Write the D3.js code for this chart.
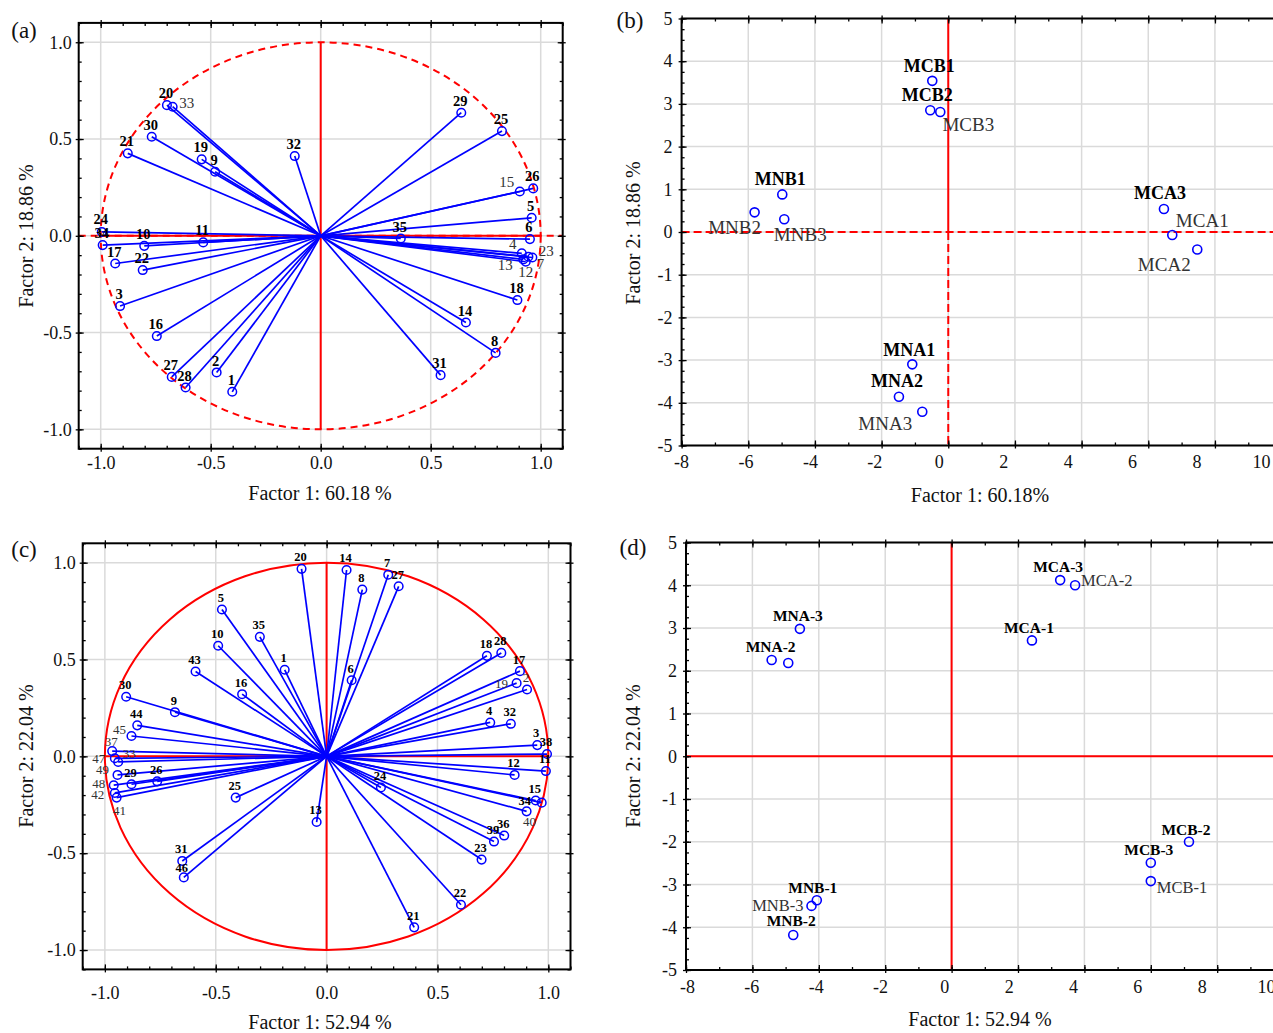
<!DOCTYPE html>
<html>
<head>
<meta charset="utf-8">
<script src="https://cdn.jsdelivr.net/npm/d3@7"></script>
<style>
  body { margin: 0; background: #fff; }
  svg { font-family: "Liberation Serif", "Times New Roman", serif; }
</style>
</head>
<body>
<div id="chart"></div>
<script>
// ---- (a) variable loadings, factor 1 (60.18 %) vs factor 2 (18.86 %)
const varsA = ["1","2","3","4","5","6","7","8","9","10","11","12","13","14","15","16","17","18",
  "19","20","21","22","23","24","25","26","27","28","29","30","31","32","33","34","35"];
const f1A = [-0.402,-0.473,-0.912,0.914,0.959,0.951,0.944,0.795,-0.48,-0.802,-0.534,0.932,0.921,0.66,
  0.905,-0.745,-0.934,0.894,-0.541,-0.699,-0.877,-0.809,0.962,-0.995,0.824,0.966,-0.677,-0.614,
  0.639,-0.768,0.545,-0.118,-0.673,-0.991,0.364];
const f2A = [-0.806,-0.706,-0.363,-0.091,0.093,-0.017,-0.108,-0.605,0.331,-0.052,-0.034,-0.134,-0.122,
  -0.448,0.229,-0.518,-0.143,-0.332,0.395,0.675,0.426,-0.177,-0.112,0.02,0.541,0.245,-0.729,-0.784,
  0.636,0.512,-0.72,0.412,0.667,-0.048,-0.014];

// ---- (b) sample scores, factor 1 vs factor 2
const samplesB = ["MCB1","MCB2","MCB3","MNB1","MNB2","MNB3","MCA1","MCA2","MCA3","MNA1","MNA2","MNA3"];
const s1B = [-0.48,-0.54,-0.24,-4.98,-5.81,-4.92,6.72,7.47,6.47,-1.08,-1.48,-0.78];
const s2B = [3.54,2.85,2.81,0.88,0.46,0.30,-0.07,-0.41,0.54,-3.10,-3.86,-4.21];

// ---- (c) variable loadings, factor 1 (52.94 %) vs factor 2 (22.04 %)
const varsC = d3.range(1, 50).map(String);
const f1C = [-0.189,0.904,0.95,0.738,-0.472,0.113,0.278,0.161,-0.684,-0.489,0.989,0.848,-0.045,0.09,
  0.943,-0.381,0.872,0.723,0.857,-0.113,0.395,0.606,0.699,0.245,-0.41,-0.764,0.325,0.788,-0.88,
  -0.904,-0.651,0.831,-0.94,0.97,-0.301,0.801,-0.967,0.994,0.755,0.902,-0.947,-0.955,-0.591,
  -0.854,-0.88,-0.644,-0.955,-0.96,-0.943];
const f2C = [0.447,0.345,0.058,0.175,0.758,0.393,0.938,0.861,0.228,0.571,-0.076,-0.096,-0.339,0.962,
  -0.228,0.321,0.44,0.519,0.378,0.968,-0.883,-0.766,-0.533,-0.161,-0.213,-0.129,0.878,0.534,-0.144,
  0.308,-0.54,0.168,-0.029,-0.239,0.617,-0.409,0.027,0.012,-0.44,-0.284,-0.213,-0.189,0.438,
  0.16,0.105,-0.625,-0.01,-0.149,-0.096];

// ---- (d) sample scores
const samplesD = ["MCA-1","MCA-2","MCA-3","MNA-1","MNA-2","MNA-3","MCB-1","MCB-2","MCB-3","MNB-1","MNB-2","MNB-3"];
const s1D = [2.42,3.72,3.27,-4.92,-5.42,-4.57,6.0,7.15,6.0,-4.06,-4.77,-4.22];
const s2D = [2.71,4.0,4.12,2.18,2.25,2.98,-2.92,-2.0,-2.49,-3.37,-4.18,-3.5];

// tick values
const loadTicks = [-1, -0.5, 0, 0.5, 1];
const loadMinor = d3.range(-11, 12).map(i => i / 10);
const scoreXTicks = [-8, -6, -4, -2, 0, 2, 4, 6, 8, 10];
const scoreYTicks = [-5, -4, -3, -2, -1, 0, 1, 2, 3, 4, 5];

// label placement (offset of text centre from marker, px) and weight
const shiftA = {"33":[14,-4],"15":[-13,-10],"4":[-9,-9],"23":[14,-7],"13":[-18,6],"12":[0,10],"7":[12,7],
  "24":[-1,-13]};
const lightA = ["33","15","4","23","13","12","7"];
const shiftC = {"45":[-12,-6],"37":[-1,-9],"33":[11,-8],"47":[-16,0],"49":[-15,-5],"48":[-15,-2],
  "42":[-17,2],"41":[3,13],"19":[-15,0],"34":[-17,-2],"40":[3,10],"46":[-2,-10]};
const lightC = ["45","37","47","33","49","48","42","41","19","2","40"];
const shiftB = {"MCB1":[-3,-15],"MCB2":[-3,-16],"MCB3":[28,13],"MNB1":[-2,-16],"MNB2":[-20,15],
  "MNB3":[16,16],"MCA3":[-4,-16],"MCA1":[30,-14],"MCA2":[-33,15],"MNA1":[-3,-15],"MNA2":[-2,-16],"MNA3":[-37,12]};
const boldB = ["MCB1","MCB2","MNB1","MCA3","MNA1","MNA2"];
const shiftD = {"MCA-3":[-2,-14],"MCA-2":[6,-5,"start"],"MCA-1":[-3,-13],"MNA-3":[-2,-13],"MNA-2":[-1,-13],
  "MCB-2":[-3,-12],"MCB-3":[-2,-13],"MCB-1":[6,6,"start"],"MNB-1":[-4,-13],"MNB-3":[-8,0,"end"],"MNB-2":[-2,-14]};
const boldD = ["MCA-3","MCA-1","MNA-3","MNA-2","MCB-2","MCB-3","MNB-1","MNB-2"];
const hiddenD = ["MNA-1"];

const W = 1273, H = 1033;
const BLUE = "#0000ff", RED = "#ff0000";

const svg = d3.select("#chart").append("svg")
  .attr("width", W).attr("height", H);
svg.append("rect").attr("width", W).attr("height", H).attr("fill", "#fff");

function grid(g, x, y, xs, ys) {
  const [x0, x1] = x.range(), [y0, y1] = y.range();
  const gg = g.append("g").attr("stroke", "#dadada").attr("stroke-width", 1.5);
  gg.selectAll(".gx").data(xs).join("line")
    .attr("x1", d => x(d)).attr("x2", d => x(d)).attr("y1", y0).attr("y2", y1);
  gg.selectAll(".gy").data(ys).join("line")
    .attr("y1", d => y(d)).attr("y2", d => y(d)).attr("x1", x0).attr("x2", x1);
}

function axes(g, x, y, o) {
  const [x0, x1] = x.range(), [y0, y1] = y.range();
  const put = (axis, t) => g.append("g").attr("transform", t).call(axis)
    .call(a => a.select(".domain").remove())
    .call(a => a.selectAll(".tick line").attr("stroke-width", 1.3));
  const sides = [
    [d3.axisBottom, x, o.xMinor, o.xMajor, `translate(0,${y0})`],
    [d3.axisTop, x, o.xMinor, o.xMajor, `translate(0,${y1})`],
    [d3.axisLeft, y, o.yMinor, o.yMajor, `translate(${x0},0)`],
    [d3.axisRight, y, o.yMinor, o.yMajor, `translate(${x1},0)`]
  ];
  sides.forEach(([fn, s, minor, major, t]) => {
    put(fn(s).tickValues(minor).tickSize(-3).tickFormat(""), t);
    put(fn(s).tickValues(major).tickSize(-5).tickFormat(""), t);
    put(fn(s).tickValues(major).tickSize(3).tickFormat(""), t);
  });
  g.append("rect")
    .attr("x", x0).attr("y", y1).attr("width", x1 - x0).attr("height", y0 - y1)
    .attr("fill", "none").attr("stroke", "#000").attr("stroke-width", 2);

  const style = a => a.attr("font-size", 18).attr("font-family", null)
    .call(s => s.selectAll("text").attr("fill", "#111"));
  put(d3.axisBottom(o.xLab || x).tickValues(o.xMajor).tickSize(0).tickPadding(o.xPad).tickFormat(o.fmt),
      `translate(0,${y0})`).call(style);
  put(d3.axisLeft(y).tickValues(o.yMajor).tickSize(0).tickPadding(o.yPad).tickFormat(o.fmt),
      `translate(${x0},0)`).call(style);

  g.append("text").attr("x", o.titleX[0]).attr("y", o.titleX[1])
    .attr("text-anchor", "middle").attr("font-size", 20).attr("fill", "#111").text(o.xTitle);
  g.append("text").attr("transform", `translate(${o.titleY[0]},${o.titleY[1]}) rotate(-90)`)
    .attr("text-anchor", "middle").attr("font-size", 20).attr("fill", "#111").text(o.yTitle);
}

function labels(g, pts, x, y, shift, def, isBold, size, sizeLight) {
  g.append("g").selectAll("text").data(pts).join("text")
    .attr("x", d => x(d.f1) + (shift[d.id] || def)[0])
    .attr("y", d => y(d.f2) + (shift[d.id] || def)[1] + size * 0.35)
    .attr("text-anchor", d => (shift[d.id] || def)[2] || "middle")
    .attr("font-size", d => isBold(d.id) ? size : sizeLight)
    .attr("font-weight", d => isBold(d.id) ? "bold" : "normal")
    .attr("fill", d => isBold(d.id) ? "#000" : "#333")
    .text(d => d.id);
}

// ---- correlation-circle panels (a) and (c)
function loadings(o) {
  const g = svg.append("g");
  const x = d3.scaleLinear().domain([-1.1, 1.1]).range(o.xr);
  const y = d3.scaleLinear().domain([-1.1, 1.1]).range(o.yr);
  grid(g, x, y, loadTicks, loadTicks);

  const red = g.append("g").attr("stroke", RED).attr("stroke-width", 2).attr("fill", "none");
  red.append("ellipse")
    .attr("cx", x(0)).attr("cy", y(0))
    .attr("rx", x(1) - x(0)).attr("ry", y(0) - y(1))
    .attr("stroke-dasharray", o.dashed ? "7,5" : null);
  if (o.dashed) {
    red.append("line").attr("x1", x(-1.1)).attr("x2", x(1.1)).attr("y1", y(0)).attr("y2", y(0))
      .attr("stroke-dasharray", "7,5");
  }
  red.append("line").attr("x1", x(-1)).attr("x2", x(1)).attr("y1", y(0)).attr("y2", y(0));
  red.append("line").attr("x1", x(0)).attr("x2", x(0)).attr("y1", y(-1)).attr("y2", y(1));

  const pts = o.ids.map((id, i) => ({id, f1: o.f1[i], f2: o.f2[i]}));
  g.append("g").selectAll("line").data(pts).join("line")
    .attr("x1", x(0)).attr("y1", y(0))
    .attr("x2", d => x(d.f1)).attr("y2", d => y(d.f2))
    .attr("stroke", BLUE).attr("stroke-width", 1.7);
  g.append("g").selectAll("circle").data(pts).join("circle")
    .attr("cx", d => x(d.f1)).attr("cy", d => y(d.f2)).attr("r", 4.3)
    .attr("fill", "none").attr("stroke", BLUE).attr("stroke-width", 1.5);
  labels(g, pts, x, y, o.shift, [-1, -12], id => !o.light.includes(id), o.fs, o.fs + 0.5);

  axes(g, x, y, {
    xMinor: loadMinor, xMajor: loadTicks, yMinor: loadMinor, yMajor: loadTicks,
    fmt: d => d.toFixed(1), xPad: o.xPad, yPad: 7,
    xTitle: o.xTitle, yTitle: o.yTitle, titleX: o.titleX, titleY: o.titleY
  });
}

// ---- score panels (b) and (d)
function scores(o) {
  const g = svg.append("g");
  const x = d3.scaleLinear().domain([-8, 10]).range(o.xr);
  const xLab = d3.scaleLinear().domain([-8, 10]).range(o.xl);
  const y = d3.scaleLinear().domain([-5, 5]).range(o.yr);
  grid(g, x, y, scoreXTicks, scoreYTicks);

  const red = g.append("g").attr("stroke", RED).attr("stroke-width", 2).attr("fill", "none");
  red.append("line").attr("x1", x(-8)).attr("x2", x(10)).attr("y1", y(0)).attr("y2", y(0))
    .attr("stroke-dasharray", o.dashed ? "8,4" : null);
  red.append("line").attr("x1", x(0)).attr("x2", x(0)).attr("y1", y(5)).attr("y2", y(0));
  red.append("line").attr("x1", x(0)).attr("x2", x(0)).attr("y1", y(0)).attr("y2", y(-5))
    .attr("stroke-dasharray", o.dashed ? "8,4" : null);

  const pts = o.ids.map((id, i) => ({id, f1: o.f1[i], f2: o.f2[i]}));
  g.append("g").selectAll("circle").data(pts).join("circle")
    .attr("cx", d => x(d.f1)).attr("cy", d => y(d.f2)).attr("r", 4.5)
    .attr("fill", "none").attr("stroke", BLUE).attr("stroke-width", 1.6);
  labels(g, pts.filter(d => !o.hidden.includes(d.id)), x, y, o.shift, [0, -14],
    id => o.bold.includes(id), o.fs, o.fsLight);

  axes(g, x, y, {
    xMinor: d3.range(-8, 11), xMajor: scoreXTicks,
    yMinor: d3.range(-20, 21).map(i => i / 4), yMajor: scoreYTicks,
    fmt: d => String(d), xLab, xPad: o.xPad, yPad: 9,
    xTitle: o.xTitle, yTitle: o.yTitle, titleX: o.titleX, titleY: o.titleY
  });
}

loadings({ ids: varsA, f1: f1A, f2: f2A, xr: [78.7, 562.7], yr: [448.7, 22.9],
  dashed: true, shift: shiftA, light: lightA, fs: 14.5, xPad: 8,
  xTitle: "Factor 1: 60.18 %", yTitle: "Factor 2: 18.86 %", titleX: [320, 500], titleY: [33, 236] });

loadings({ ids: varsC, f1: f1C, f2: f2C, xr: [82.7, 570.5], yr: [969.4, 543.3],
  dashed: false, shift: shiftC, light: lightC, fs: 12.5, xPad: 17,
  xTitle: "Factor 1: 52.94 %", yTitle: "Factor 2: 22.04 %", titleX: [320, 1029], titleY: [33, 756] });

scores({ ids: samplesB, f1: s1B, f2: s2B, xr: [681.6, 1281.6], xl: [681, 1261], yr: [445.5, 18.5],
  dashed: true, shift: shiftB, bold: boldB, hidden: [], fs: 18, fsLight: 19, xPad: 10,
  xTitle: "Factor 1: 60.18%", yTitle: "Factor 2: 18.86 %", titleX: [980, 502], titleY: [640, 233] });

scores({ ids: samplesD, f1: s1D, f2: s2D, xr: [686, 1283.6], xl: [687, 1266], yr: [970, 542.5],
  dashed: false, shift: shiftD, bold: boldD, hidden: hiddenD, fs: 15.5, fsLight: 16.5, xPad: 10,
  xTitle: "Factor 1: 52.94 %", yTitle: "Factor 2: 22.04 %", titleX: [980, 1026], titleY: [640, 756] });

// panel letters
const letters = [["(a)", 24, 38], ["(b)", 630, 28], ["(c)", 24, 557], ["(d)", 633, 555]];
svg.append("g").selectAll("text").data(letters).join("text")
  .attr("x", d => d[1]).attr("y", d => d[2])
  .attr("text-anchor", "middle").attr("font-size", 23).attr("fill", "#111")
  .text(d => d[0]);
</script>
</body>
</html>
